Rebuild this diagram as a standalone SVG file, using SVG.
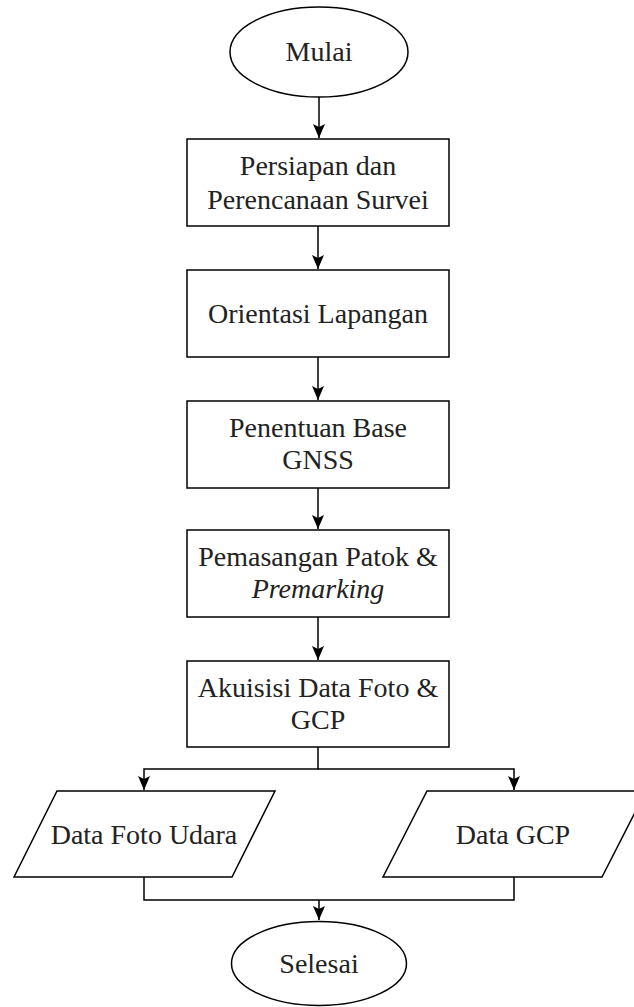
<svg xmlns="http://www.w3.org/2000/svg" width="634" height="1007" viewBox="0 0 634 1007">
<style>
.shape{fill:#fff;stroke:#000;stroke-width:1.5}
.lbl{font-family:"Liberation Serif","Times New Roman",serif;font-size:28px;fill:#222;text-anchor:middle}
.it{font-style:italic}
.conn{fill:none;stroke:#000;stroke-width:1.5}
</style>
<defs>
<marker id="arr" markerUnits="userSpaceOnUse" markerWidth="16" markerHeight="16" refX="14" refY="7" orient="auto" overflow="visible">
<path d="M0,1 L14,7 L0,13 L3,7 z" fill="#000" stroke="none"/>
</marker>
</defs>
<rect width="634" height="1007" fill="#fff"/>
<g id="connectors">
<path class="conn" d="M319,97 V138" marker-end="url(#arr)"/>
<path class="conn" d="M318,226 V269" marker-end="url(#arr)"/>
<path class="conn" d="M318,357 V400" marker-end="url(#arr)"/>
<path class="conn" d="M318,488 V529" marker-end="url(#arr)"/>
<path class="conn" d="M318,617 V660" marker-end="url(#arr)"/>
<path class="conn" d="M318,747 V769 H144 V790" marker-end="url(#arr)"/>
<path class="conn" d="M318,769 H514 V790" marker-end="url(#arr)"/>
<path class="conn" d="M144,877 V900 H514 V877"/>
<path class="conn" d="M319,900 V920" marker-end="url(#arr)"/>
</g>
<g id="start">
<ellipse class="shape" cx="319" cy="52" rx="89" ry="45"/>
<text class="lbl" x="319" y="61">Mulai</text>
</g>
<g id="persiapan">
<rect class="shape" x="187" y="139" width="262" height="87"/>
<text class="lbl" x="318" y="175">Persiapan dan</text>
<text class="lbl" x="318" y="209">Perencanaan Survei</text>
</g>
<g id="orientasi">
<rect class="shape" x="187" y="270" width="262" height="87"/>
<text class="lbl" x="318" y="323">Orientasi Lapangan</text>
</g>
<g id="penentuan">
<rect class="shape" x="187" y="401" width="262" height="87"/>
<text class="lbl" x="318" y="437">Penentuan Base</text>
<text class="lbl" x="318" y="469">GNSS</text>
</g>
<g id="pemasangan">
<rect class="shape" x="187" y="530" width="262" height="87"/>
<text class="lbl" x="318" y="566">Pemasangan Patok &amp;</text>
<text class="lbl it" x="318" y="598">Premarking</text>
</g>
<g id="akuisisi">
<rect class="shape" x="187" y="661" width="262" height="86"/>
<text class="lbl" x="318" y="697">Akuisisi Data Foto &amp;</text>
<text class="lbl" x="318" y="729">GCP</text>
</g>
<g id="foto-udara">
<polygon class="shape" points="57,791 275,791 232,877 14,877"/>
<text class="lbl" x="144" y="844">Data Foto Udara</text>
</g>
<g id="data-gcp">
<polygon class="shape" points="427,791 646,791 602,877 383,877"/>
<text class="lbl" x="513" y="844">Data GCP</text>
</g>
<g id="end">
<ellipse class="shape" cx="319" cy="963.5" rx="87.5" ry="42"/>
<text class="lbl" x="319" y="973">Selesai</text>
</g>
</svg>
